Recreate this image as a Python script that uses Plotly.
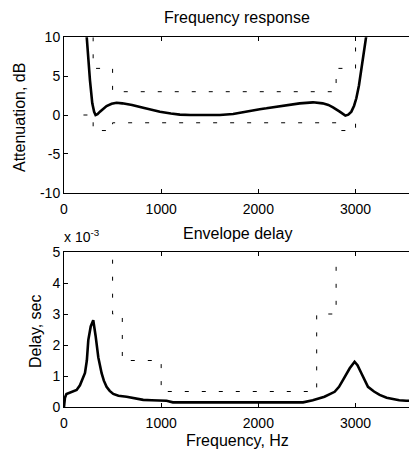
import plotly.graph_objects as go
from plotly.subplots import make_subplots

# ---- Data ----
# Attenuation response (Hz, dB)
att_freq = [225, 233, 250, 267, 291, 310, 325, 345, 370, 400, 438, 490, 541, 600, 700, 815, 900, 987,
            1100, 1192, 1300, 1400, 1500, 1603, 1740, 1850, 2014, 2083, 2254, 2425, 2562, 2662, 2720,
            2768, 2837, 2870, 2895, 2925, 2957, 2985, 3008, 3035, 3060, 3085, 3111, 3120]
att_db = [11.5, 10, 7.2, 4.5, 1.5, 0.4, 0.0, 0.1, 0.43, 0.8, 1.16, 1.45, 1.58, 1.5, 1.3, 0.94, 0.65, 0.43,
          0.2, 0.05, 0.0, 0.0, 0.0, 0.0, 0.13, 0.4, 0.75, 0.86, 1.16, 1.5, 1.63, 1.5, 1.3,
          0.99, 0.43, 0.1, -0.08, 0.05, 0.43, 1.2, 2.15, 3.8, 5.8, 8.0, 10.0, 11.0]

# Attenuation mask (Hz, dB)
att_upper_f = [300, 300, 500, 500, 2800, 2800, 3000, 3000]
att_upper_db = [10, 6, 6, 3, 3, 6, 6, 10]
att_lower_f = [200, 300, 300, 500, 500, 2800, 2800, 3000, 3000]
att_lower_db = [0, 0, -2, -2, -1, -1, -2, -2, 0]

# Envelope delay (Hz, ms)
dly_freq = [0, 10, 25, 79, 130, 164, 200, 216, 235, 250, 275, 301, 325, 353, 387, 410, 438, 470, 507,
            560, 644, 730, 815, 900, 1000, 1055, 1120, 1500, 2000, 2460, 2560, 2680, 2785, 2830, 2870,
            2940, 2990, 3020, 3060, 3128, 3190, 3248, 3320, 3382, 3450, 3522, 3560]
dly_ms = [0.0, 0.3, 0.42, 0.48, 0.55, 0.7, 0.95, 1.1, 1.5, 2.16, 2.6, 2.8, 2.3, 1.6, 1.09, 0.85, 0.65, 0.52, 0.42,
          0.36, 0.33, 0.28, 0.23, 0.22, 0.21, 0.2, 0.15, 0.15, 0.15, 0.15, 0.22, 0.33, 0.49, 0.65, 0.87,
          1.25, 1.46, 1.35, 1.09, 0.65, 0.5, 0.39, 0.3, 0.25, 0.22, 0.2, 0.2]

# Envelope delay mask (Hz, ms)
dly_mask_f = [500, 500, 600, 600, 1000, 1000, 2600, 2600, 2800, 2800]
dly_mask_ms = [5.3, 3, 3, 1.5, 1.5, 0.5, 0.5, 3, 3, 4.7]

x_ticks = [0, 1000, 2000, 3000]
x_ticktext = ["0", "1000", "2000", "3000"]
att_ticks = [-10, -5, 0, 5, 10]
att_ticktext = ["-10", "-5", "0", "5", "10"]
dly_ticks = [0, 1, 2, 3, 4, 5]
dly_ticktext = ["0", "1", "2", "3", "4", "5"]

FONT = "Liberation Sans, Arial, Helvetica, sans-serif"
W, H = 409, 454
L = 64

fig = make_subplots(rows=2, cols=1)

dash = "4px,13px"
fig.add_trace(go.Scatter(x=att_upper_f, y=att_upper_db, mode="lines",
                         line=dict(color="black", width=1, dash=dash)), row=1, col=1)
fig.add_trace(go.Scatter(x=att_lower_f, y=att_lower_db, mode="lines",
                         line=dict(color="black", width=1, dash=dash)), row=1, col=1)
fig.add_trace(go.Scatter(x=att_freq, y=att_db, mode="lines",
                         line=dict(color="black", width=2.6)), row=1, col=1)

fig.add_trace(go.Scatter(x=dly_mask_f, y=dly_mask_ms, mode="lines",
                         line=dict(color="black", width=1, dash=dash)), row=2, col=1)
fig.add_trace(go.Scatter(x=dly_freq, y=dly_ms, mode="lines",
                         line=dict(color="black", width=2.6)), row=2, col=1)

def py(px):
    return 1 - px / H

def pxx(px):
    return (px - L) / (W - L)

xr = [0, 3550]
common_x = dict(range=xr, tickvals=x_ticks, ticktext=x_ticktext, ticks="inside", ticklen=4,
                tickcolor="black", showline=True, linecolor="black", linewidth=1, mirror="allticks",
                showgrid=False, zeroline=False, domain=[0, 1], automargin=False,
                ticklabelstandoff=3,
                tickfont=dict(family=FONT, size=14, color="black"))
common_y = dict(ticks="inside", ticklen=4, tickcolor="black", showline=True, linecolor="black",
                linewidth=1, mirror=False, showgrid=False, zeroline=False, automargin=False,
                tickfont=dict(family=FONT, size=14, color="black"))

fig.update_xaxes(**common_x)
fig.update_yaxes(**common_y)
fig.update_yaxes(range=[-10, 10], tickvals=att_ticks, ticktext=att_ticktext,
                 domain=[py(192.7), py(37.3)], row=1, col=1)
fig.update_yaxes(range=[0, 5], tickvals=dly_ticks, ticktext=dly_ticktext,
                 domain=[py(407), py(252)], row=2, col=1)

ann_font = dict(family=FONT, size=16, color="black")
annotations = [
    dict(text="Frequency response", x=pxx(237), y=py(18)),
    dict(text="Envelope delay", x=pxx(237), y=py(233)),
    dict(text="Frequency, Hz", x=pxx(237), y=py(440)),
    dict(text="Attenuation, dB", x=pxx(19), y=py(118), textangle=-90),
    dict(text="Delay, sec", x=pxx(35), y=py(331), textangle=-90),
]
anns = []
for a in annotations:
    a.update(xref="paper", yref="paper", showarrow=False, font=ann_font,
             xanchor="center", yanchor="middle")
    anns.append(a)
anns.append(dict(text="x 10<sup>-3</sup>", x=pxx(62), y=py(236), xref="paper", yref="paper",
                 showarrow=False, font=dict(family=FONT, size=14, color="black"),
                 xanchor="left", yanchor="middle"))

fig.update_layout(width=W, height=H, margin=dict(l=L, r=0, t=0, b=0, autoexpand=False),
                  paper_bgcolor="white", plot_bgcolor="white", showlegend=False,
                  annotations=anns)

fig.write_html("out.html", config={"displayModeBar": False},
               post_script="document.body.style.margin='0';document.body.style.overflow='hidden';")
